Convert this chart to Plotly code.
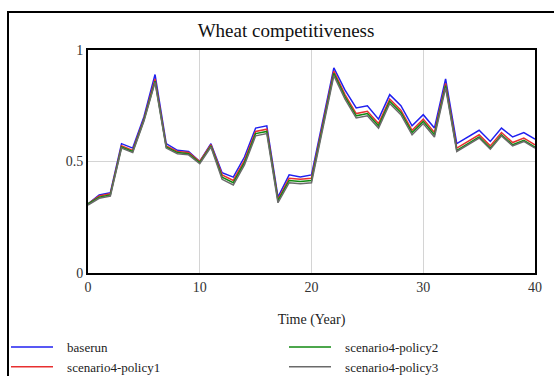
import plotly.graph_objects as go

# Simulation years and model output for each run
years = list(range(0, 41))

baserun = [0.31, 0.35, 0.36, 0.58, 0.56, 0.70, 0.89, 0.58, 0.55, 0.545,
           0.50, 0.58, 0.45, 0.43, 0.52, 0.65, 0.66, 0.34, 0.44, 0.43,
           0.44, 0.68, 0.92, 0.82, 0.74, 0.75, 0.69, 0.80, 0.75, 0.66,
           0.71, 0.65, 0.87, 0.58, 0.61, 0.64, 0.59, 0.65, 0.61, 0.63, 0.60]
policy1 = [0.31, 0.345, 0.355, 0.57, 0.55, 0.69, 0.87, 0.57, 0.545, 0.54,
           0.50, 0.575, 0.44, 0.415, 0.505, 0.635, 0.645, 0.33, 0.425, 0.42,
           0.425, 0.665, 0.905, 0.80, 0.715, 0.725, 0.67, 0.78, 0.73, 0.64,
           0.69, 0.63, 0.85, 0.56, 0.59, 0.62, 0.57, 0.63, 0.585, 0.605, 0.575]
policy2 = [0.31, 0.34, 0.35, 0.565, 0.545, 0.685, 0.86, 0.565, 0.54, 0.535,
           0.495, 0.57, 0.43, 0.405, 0.495, 0.625, 0.635, 0.325, 0.415, 0.41,
           0.415, 0.655, 0.895, 0.79, 0.705, 0.715, 0.66, 0.77, 0.72, 0.63,
           0.68, 0.62, 0.84, 0.55, 0.58, 0.61, 0.56, 0.62, 0.575, 0.595, 0.565]
policy3 = [0.305, 0.335, 0.345, 0.56, 0.54, 0.68, 0.855, 0.56, 0.535, 0.53,
           0.49, 0.565, 0.42, 0.395, 0.485, 0.615, 0.625, 0.315, 0.405, 0.40,
           0.405, 0.645, 0.885, 0.78, 0.695, 0.705, 0.65, 0.76, 0.71, 0.62,
           0.67, 0.61, 0.83, 0.545, 0.575, 0.605, 0.555, 0.615, 0.57, 0.59, 0.56]

series_names = ["baserun", "scenario4-policy1", "scenario4-policy2", "scenario4-policy3"]
series_values = [baserun, policy1, policy2, policy3]
series_colors = ["#2020f0", "#e83030", "#108a10", "#6a6a6a"]
series_legends = ["legend", "legend", "legend2", "legend2"]

x_ticks = [0, 10, 20, 30, 40]
y_ticks = [0, 0.5, 1]
y_tick_labels = ["0", "0.5", "1"]

W, H = 554, 376
L, R, T, B = 88, 19, 50, 103
pw, ph = W - L - R, H - T - B

serif = "Liberation Serif, Times New Roman, serif"
label_pad = "\u2002\u2009"  # small gap between legend swatch and label

fig = go.Figure()
for name, vals, col, lg in zip(series_names, series_values, series_colors, series_legends):
    fig.add_trace(go.Scatter(
        x=years, y=vals, mode="lines", name=label_pad + name,
        line=dict(color=col, width=1.5), legend=lg,
    ))


def px_x(px):
    return (px - L) / pw


def px_y(py):
    return (H - B - py) / ph


legend_common = dict(
    orientation="v", xanchor="left", yanchor="top",
    font=dict(family=serif, size=13, color="#222"),
    bgcolor="rgba(0,0,0,0)", itemwidth=42, tracegroupgap=0,
)

fig.update_layout(
    width=W, height=H,
    margin=dict(l=L, r=R, t=T, b=B, autoexpand=False),
    paper_bgcolor="white", plot_bgcolor="white",
    title=dict(text="Wheat competitiveness", x=286 / W, xref="container",
               y=1 - 30 / H, yref="container", xanchor="center", yanchor="middle",
               font=dict(family=serif, size=19, color="#111")),
    xaxis=dict(range=[0, 40], tickvals=x_ticks, showgrid=True, gridcolor="#d4d4d4",
               gridwidth=1, zeroline=False, showline=True, linecolor="black",
               linewidth=2, mirror=True, ticks="", ticklen=0,
               tickfont=dict(family=serif, size=14, color="#333"),
               title=dict(text="Time (Year)", standoff=20,
                          font=dict(family=serif, size=14, color="#222"))),
    yaxis=dict(range=[0, 1], tickvals=y_ticks, ticktext=y_tick_labels, showgrid=True,
               gridcolor="#d4d4d4", gridwidth=1, zeroline=False, showline=True,
               linecolor="black", linewidth=2, mirror=True, ticks="",
               tickfont=dict(family=serif, size=14, color="#333")),
    legend=dict(x=px_x(6), y=px_y(332), **legend_common),
    legend2=dict(x=px_x(284), y=px_y(332), **legend_common),
    shapes=[dict(type="rect", xref="paper", yref="paper",
                 x0=px_x(8), x1=px_x(600), y0=px_y(420), y1=px_y(12),
                 line=dict(color="black", width=2), layer="below")],
)

fig.write_html("out.html")
